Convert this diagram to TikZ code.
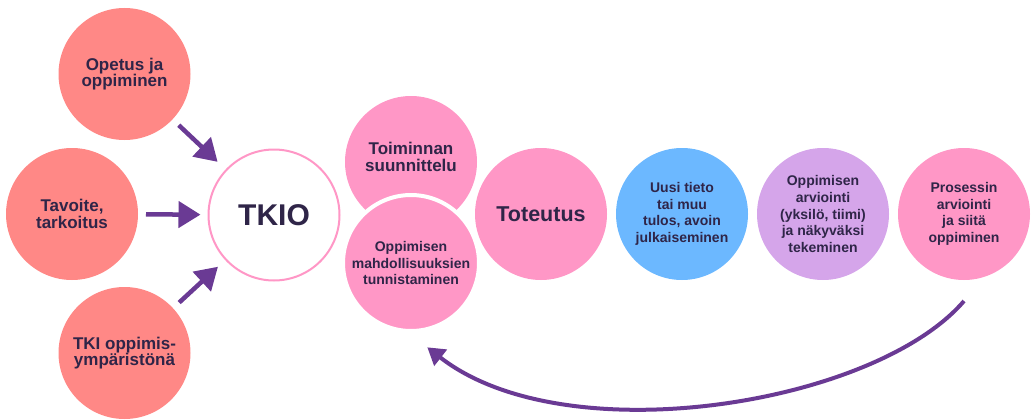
\documentclass[tikz,border=0pt]{standalone}
\usepackage{fontspec}
\setmainfont{Liberation Sans}
\usetikzlibrary{arrows.meta}
\definecolor{salmon}{HTML}{FF8886}
\definecolor{pinkc}{HTML}{FF97C6}
\definecolor{bluec}{HTML}{6CB8FF}
\definecolor{lavc}{HTML}{D5A5EA}
\definecolor{arrc}{HTML}{6A3A94}
\definecolor{txtc}{HTML}{2F2548}
\tikzset{
  circ/.style={circle, minimum size=132pt, inner sep=0pt, outer sep=0pt, text=txtc,
    font=\bfseries\fontsize{17}{16.7}\selectfont, align=center},
  lbl/.style={inner sep=0pt, text=txtc, font=\bfseries\fontsize{17}{16.7}\selectfont, align=center},
  smalltxt/.style={font=\bfseries\fontsize{14}{16.7}\selectfont},
  arr/.style={draw=arrc, line width=4.5pt, -{Triangle[length=22pt,width=26pt]}},
  arrcurve/.style={draw=arrc, line width=4pt, -{Triangle[length=17pt,width=20pt]}},
}
\begin{document}
\begin{tikzpicture}[x=1pt,y=-1pt]
\useasboundingbox (0,0) rectangle (1031,420);
\node[circ, fill=salmon] (opetus) at (124.5,74) {Opetus ja\\oppiminen};
\node[circ, fill=salmon] (tavoite) at (72,214) {Tavoite,\\tarkoitus};
\node[circ, fill=salmon] (tki) at (124.5,353) {TKI oppimis-\\ympäristönä};
\node[circ, fill=white, draw=pinkc, line width=2pt, minimum size=131pt] (tkio) at (274,215) {\fontsize{30}{30}\selectfont TKIO};
\node[circ, fill=pinkc] (toim) at (411,162) {};
\node[lbl] (toimlbl) at (411,157) {Toiminnan\\suunnittelu};
\node[circ, fill=pinkc, draw=white, line width=4pt, minimum size=136pt, smalltxt] (opp) at (411,263) {Oppimisen\\mahdollisuuksien\\tunnistaminen};
\node[circ, fill=pinkc] (tot) at (541,214) {\fontsize{21.5}{24}\selectfont Toteutus};
\node[circ, fill=bluec, smalltxt] (uusi) at (682,214) {Uusi tieto\\tai muu\\tulos, avoin\\julkaiseminen};
\node[circ, fill=lavc, smalltxt] (arv) at (823,214) {Oppimisen\\arviointi\\(yksilö, tiimi)\\ja näkyväksi\\tekeminen};
\node[circ, fill=pinkc, smalltxt] (pros) at (964,214) {Prosessin\\arviointi\\ja siitä\\oppiminen};
\draw[arr, shorten <=8.6pt, shorten >=12pt] (opetus) -- (tkio);
\draw[arr, shorten <=8pt, shorten >=8pt] (tavoite) -- (tkio);
\draw[arr, shorten <=8.4pt, shorten >=10.8pt] (tki) -- (tkio);
\coordinate (cstart) at ([yshift=-21pt]pros.south);
\coordinate (cend) at (427.3,347.3);
\draw[arrcurve] (cstart) .. controls (875,405) and (565,455) .. (cend);
\end{tikzpicture}
\end{document}
